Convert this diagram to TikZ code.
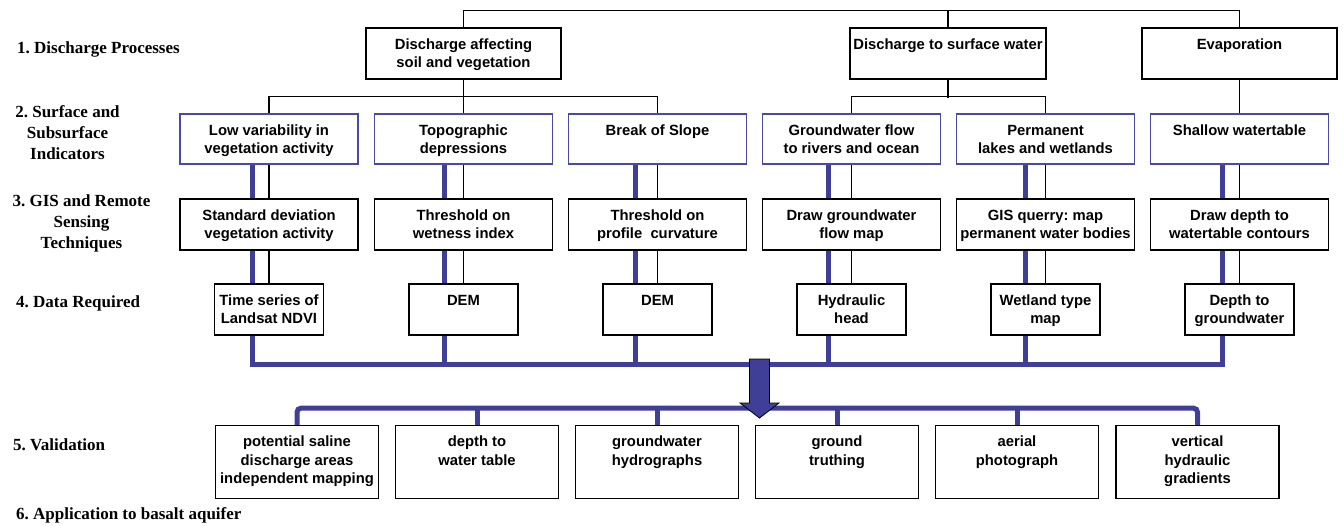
\documentclass[tikz,border=0pt]{standalone}
\usepackage{fontspec}
\setmainfont{Liberation Serif}
\newfontfamily\arialfont{Liberation Sans}
\usepackage{tikz}
\usetikzlibrary{positioning, backgrounds}
\usepackage{xcolor}
\definecolor{barBlue}{HTML}{3F3F98}
\definecolor{edgeBlue}{HTML}{4A4AA6}
\frenchspacing

% text in a box, hung from its top edge
\newcommand{\toptext}[3]{\parbox[c][#2][t]{#1}{\centering\rule{0pt}{21pt}#3}}

\begin{document}
\begin{tikzpicture}[
    x=1pt, y=-1pt,
    every node/.style={inner sep=0pt},
    cell/.style={draw=black, fill=white, line width=1.2pt,
                 font=\arialfont\bfseries\fontsize{14.8}{18.5}\selectfont},
    indicator/.style={cell, draw=edgeBlue},
    stage/.style={font=\bfseries\fontsize{17}{21}\selectfont},
    link/.style={draw=black, line width=1.2pt},
    bar/.style={draw=barBlue, line width=5pt},
    bigarrow/.style={draw=black, fill=barBlue, line width=0.8pt}
]
    \useasboundingbox (0,0) rectangle (1343,525);

    % stage labels
    \node[stage, anchor=west] (L1) at (17,49) {1. Discharge Processes};
    \node[stage, align=center] (L2) at (67.5,133) {2. Surface and\\Subsurface\\Indicators};
    \node[stage, align=center] (L3) at (81.5,223) {3. GIS and Remote\\Sensing\\Techniques};
    \node[stage, anchor=west] (L4) at (16,303) {4. Data Required};
    \node[stage, anchor=west] (L5) at (13,445) {5. Validation};
    \node[stage, anchor=west] (L6) at (16,515) {6. Application to basalt aquifer};

    % 1. discharge processes
    \node[cell] (P1) at (463.5,53.5) {\toptext{195pt}{51pt}{Discharge affecting\\soil and vegetation}};
    \node[cell] (P2) at (948,53.5) {\toptext{196pt}{51pt}{Discharge to surface water}};
    \node[cell] (P3) at (1239.5,53.5) {\toptext{195pt}{51pt}{Evaporation}};

    % 2. indicators
    \node[indicator] (S1) at (269,139) {\toptext{178pt}{50pt}{Low variability in\\vegetation activity}};
    \node[indicator] (S2) at (463.5,139) {\toptext{178pt}{50pt}{Topographic\\depressions}};
    \node[indicator] (S3) at (657.5,139) {\toptext{178pt}{50pt}{Break of Slope}};
    \node[indicator] (S4) at (851.5,139) {\toptext{178pt}{50pt}{Groundwater flow\\to rivers and ocean}};
    \node[indicator] (S5) at (1045.5,139) {\toptext{178pt}{50pt}{Permanent\\lakes and wetlands}};
    \node[indicator] (S6) at (1239.5,139) {\toptext{178pt}{50pt}{Shallow watertable}};

    % 3. techniques
    \node[cell] (T1) at (269,224.5) {\toptext{178pt}{51pt}{Standard deviation\\vegetation activity}};
    \node[cell] (T2) at (463.5,224.5) {\toptext{178pt}{51pt}{Threshold on\\wetness index}};
    \node[cell] (T3) at (657.5,224.5) {\toptext{178pt}{51pt}{Threshold on\\profile\ \ curvature}};
    \node[cell] (T4) at (851.5,224.5) {\toptext{178pt}{51pt}{Draw groundwater\\flow map}};
    \node[cell] (T5) at (1045.5,224.5) {\toptext{178pt}{51pt}{GIS querry: map\\permanent water bodies}};
    \node[cell] (T6) at (1239.5,224.5) {\toptext{178pt}{51pt}{Draw depth to\\watertable contours}};

    % 4. data
    \node[cell] (D1) at (269,309.5) {\toptext{109pt}{51pt}{Time series of\\Landsat NDVI}};
    \node[cell] (D2) at (463.5,309.5) {\toptext{109pt}{51pt}{DEM}};
    \node[cell] (D3) at (657.5,309.5) {\toptext{109pt}{51pt}{DEM}};
    \node[cell] (D4) at (851.5,309.5) {\toptext{109pt}{51pt}{Hydraulic\\head}};
    \node[cell] (D5) at (1045.5,309.5) {\toptext{109pt}{51pt}{Wetland type\\map}};
    \node[cell] (D6) at (1239.5,309.5) {\toptext{109pt}{51pt}{Depth to\\groundwater}};

    % 5. validation
    \node[cell] (V1) at (297,462) {\toptext{163pt}{72.5pt}{potential saline\\discharge areas\\independent mapping}};
    \node[cell] (V2) at (477,462) {\toptext{163pt}{72.5pt}{depth to\\water table}};
    \node[cell] (V3) at (657,462) {\toptext{163pt}{72.5pt}{groundwater\\hydrographs}};
    \node[cell] (V4) at (837,462) {\toptext{163pt}{72.5pt}{ground\\truthing}};
    \node[cell] (V5) at (1017,462) {\toptext{163pt}{72.5pt}{aerial\\photograph}};
    \node[cell] (V6) at (1197.5,462) {\toptext{163pt}{72.5pt}{vertical\\hydraulic\\gradients}};

    % tree lines and blue collector, behind the boxes
    \begin{scope}[on background layer]
    \draw[link] (P1.north) -- ++(0,-17) -| (P3.north);
    \draw[link] (P2.north) -- ++(0,-17);
    \draw[link] (S1.north) -- ++(0,-17) -| (S3.north);
    \draw[link] (P1.south) -- (S2.north);
    \draw[link] (S4.north) -- ++(0,-17) -| (S5.north);
    \draw[link] (P2.south) -- ++(0,18);
    \draw[link] (P3.south) -- (S6.north);
    \path[link] (S1.south) edge (T1.north) (T1.south) edge (D1.north)
                (S2.south) edge (T2.north) (T2.south) edge (D2.north)
                (S3.south) edge (T3.north) (T3.south) edge (D3.north)
                (S4.south) edge (T4.north) (T4.south) edge (D4.north)
                (S5.south) edge (T5.north) (T5.south) edge (D5.north)
                (S6.south) edge (T6.north) (T6.south) edge (D6.north);

    \draw[bar] ([xshift=-17pt]S1.south) -- ++(0,200) -| ([xshift=-17.5pt]S6.south);
    \draw[bar] ([xshift=-19.5pt]S2.south) -- ++(0,200);
    \draw[bar] ([xshift=-22.5pt]S3.south) -- ++(0,200);
    \draw[bar] ([xshift=-23.5pt]S4.south) -- ++(0,200);
    \draw[bar] ([xshift=-20.5pt]S5.south) -- ++(0,200);

    % validation feed
    \draw[bar, rounded corners=4pt] (V1.north) -- ++(0,-17) -| (V6.north);
    \draw[bar] (V2.north) -- ++(0,-17);
    \draw[bar] (V3.north) -- ++(0,-17);
    \draw[bar] (V4.north) -- ++(0,-17);
    \draw[bar] (V5.north) -- ++(0,-17);
    \end{scope}

    \draw[bigarrow] (749.5,359) -- (769.5,359) -- (769.5,403) -- (779,403)
        -- (759.5,418) -- (740,403) -- (749.5,403) -- cycle;
\end{tikzpicture}
\end{document}
